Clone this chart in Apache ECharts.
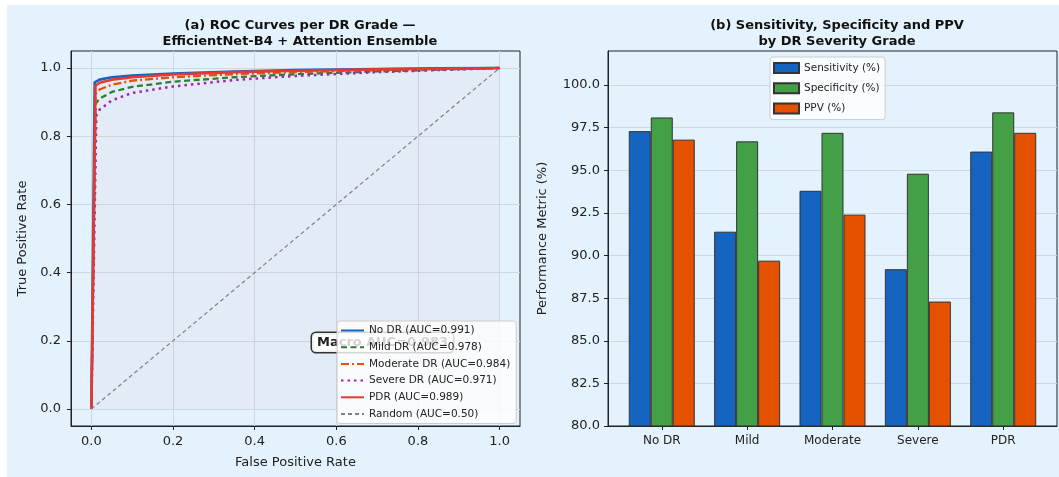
<!DOCTYPE html>
<html><head><meta charset="utf-8">
<script src="https://cdn.jsdelivr.net/npm/echarts@6/dist/echarts.min.js"></script>
<style>html,body{margin:0;padding:0;background:#fff}#c{width:1059px;height:477px}</style>
</head><body><div id="c"></div>
<script>
// ---- Panel (a) data: ROC curves [FPR, TPR] ----
const fprTicks = [0, 0.2, 0.4, 0.6, 0.8, 1.0];
const tprTicks = [0, 0.2, 0.4, 0.6, 0.8, 1.0];
const rocNoDR = [[0,0],[0.008,0.958],[0.02,0.966],[0.05,0.973],[0.1,0.978],[0.2,0.984],[0.35,0.990],[0.5,0.994],[0.7,0.997],[0.85,0.999],[1,1]];
const rocMild = [[0,0],[0.01,0.895],[0.02,0.91],[0.05,0.93],[0.1,0.945],[0.2,0.960],[0.35,0.973],[0.5,0.982],[0.7,0.990],[0.85,0.995],[1,1]];
const rocModerate = [[0,0],[0.01,0.925],[0.02,0.937],[0.05,0.951],[0.1,0.963],[0.2,0.973],[0.35,0.982],[0.5,0.988],[0.7,0.994],[0.85,0.997],[1,1]];
const rocSevere = [[0,0],[0.012,0.86],[0.02,0.878],[0.05,0.905],[0.1,0.927],[0.2,0.946],[0.35,0.965],[0.5,0.977],[0.7,0.988],[0.85,0.994],[1,1]];
const rocPDR = [[0,0],[0.01,0.948],[0.02,0.957],[0.05,0.966],[0.1,0.973],[0.2,0.981],[0.35,0.988],[0.5,0.992],[0.7,0.996],[0.85,0.998],[1,1]];
const rocRandom = [[0,0],[1,1]];
const rocNames = ['No DR (AUC=0.991)','Mild DR (AUC=0.978)','Moderate DR (AUC=0.984)','Severe DR (AUC=0.971)','PDR (AUC=0.989)','Random (AUC=0.50)'];
const macroText = 'Macro AUC=0.983';

// ---- Panel (b) data ----
const categories = ['No DR','Mild','Moderate','Severe','PDR'];
const sensitivity = [97.3, 91.4, 93.8, 89.2, 96.1];
const specificity = [98.1, 96.7, 97.2, 94.8, 98.4];
const ppv = [96.8, 89.7, 92.4, 87.3, 97.2];
const metricNames = ['Sensitivity (%)','Specificity (%)','PPV (%)'];
const metricTicks = [80, 82.5, 85, 87.5, 90, 92.5, 95, 97.5, 100];
const catPositions = categories.map((c, i) => i);

const FONT = 'DejaVu Sans';
const TXT = '#222';
const GRIDC = '#cfd7e1';

const chart = echarts.init(document.getElementById('c'), null, {renderer: 'canvas'});

function lineSeries(name, data, color, width, type, extra) {
  return Object.assign({
    type: 'line', name, data, xAxisIndex: 0, yAxisIndex: 0,
    symbol: 'none', showSymbol: false, smooth: false, silent: true,
    lineStyle: {color, width, type},
    itemStyle: {color},
    z: 2
  }, extra || {});
}
function barSeries(name, vals, color) {
  return {
    type: 'bar', name, xAxisIndex: 1, yAxisIndex: 1,
    data: vals.map((v, i) => [catPositions[i], v]),
    barWidth: 22, barGap: '0%',
    itemStyle: {color, borderColor: '#333', borderWidth: 1},
    silent: true
  };
}

const axisCommon = {
  axisLine: {show: true, onZero: false, lineStyle: {color: TXT, width: 1}},
  axisTick: {show: true, length: 4, lineStyle: {color: TXT}},
  nameTextStyle: {fontFamily: FONT, fontSize: 13, color: TXT},
  nameLocation: 'middle'
};

const option = {
  animation: false,
  backgroundColor: '#ffffff',
  graphic: [
    {type: 'rect', z: -10, silent: true, shape: {x: 7, y: 5, width: 1052, height: 472}, style: {fill: '#E3F2FD'}},
    {type: 'text', z: 3, silent: true, x: 312, y: 333,
     style: {text: macroText, font: 'bold 13px "DejaVu Sans"', fill: '#222',
       backgroundColor: 'rgba(255,255,255,0.9)', borderColor: '#333', borderWidth: 1.5,
       borderRadius: 4, padding: [3, 5, 3, 5]}}
  ],
  title: [
    {text: '(a) ROC Curves per DR Grade —\nEfficientNet-B4 + Attention Ensemble', left: 295, top: 13, textAlign: 'center',
     textStyle: {fontFamily: FONT, fontWeight: 'bold', fontSize: 13, color: '#111', lineHeight: 16}},
    {text: '(b) Sensitivity, Specificity and PPV\nby DR Severity Grade', left: 832, top: 13, textAlign: 'center',
     textStyle: {fontFamily: FONT, fontWeight: 'bold', fontSize: 13, color: '#111', lineHeight: 16}}
  ],
  legend: [
    {data: rocNames, orient: 'vertical', left: 337, top: 321, padding: [4, 6, 4, 3],
     itemWidth: 23, itemHeight: 10, itemGap: 5.7, backgroundColor: 'rgba(255,255,255,0.8)',
     borderColor: '#cccccc', borderWidth: 1, borderRadius: 3, selectedMode: false,
     itemStyle: {color: 'rgba(0,0,0,0)', borderColor: 'rgba(0,0,0,0)', borderWidth: 0, opacity: 0},
     textStyle: {fontFamily: FONT, fontSize: 10.5, color: TXT}},
    {data: metricNames, orient: 'vertical', left: 770, top: 57, padding: [5, 5, 5, 3],
     itemWidth: 25, itemHeight: 10, itemGap: 8.3, backgroundColor: 'rgba(255,255,255,0.8)',
     borderColor: '#cccccc', borderWidth: 1, borderRadius: 3, selectedMode: false, icon: 'rect',
     textStyle: {fontFamily: FONT, fontSize: 10.5, color: TXT}}
  ],
  grid: [
    {left: 71, top: 51, width: 449, height: 375, show: true, borderColor: TXT, borderWidth: 1, backgroundColor: 'transparent'},
    {left: 608, top: 51, width: 449, height: 375, show: true, borderColor: TXT, borderWidth: 1, backgroundColor: 'transparent'}
  ],
  xAxis: [
    Object.assign({}, axisCommon, {
      type: 'value', gridIndex: 0, min: -0.05, max: 1.05, name: 'False Positive Rate', nameGap: 30,
      axisTick: {show: true, length: 4, lineStyle: {color: TXT}, customValues: fprTicks},
      axisLabel: {customValues: fprTicks, formatter: v => v.toFixed(1), fontFamily: FONT, fontSize: 13, color: TXT, margin: 9},
      splitLine: {show: true, lineStyle: {color: GRIDC, width: 1}}
    }),
    Object.assign({}, axisCommon, {
      type: 'value', gridIndex: 1, min: -0.63, max: 4.63,
      axisTick: {show: true, length: 4, lineStyle: {color: TXT}, customValues: catPositions},
      axisLabel: {customValues: catPositions, formatter: v => categories[Math.round(v)], fontFamily: FONT, fontSize: 12, color: TXT, margin: 9},
      splitLine: {show: false}
    })
  ],
  yAxis: [
    Object.assign({}, axisCommon, {
      type: 'value', gridIndex: 0, min: -0.05, max: 1.05, name: 'True Positive Rate', nameGap: 42,
      axisTick: {show: true, length: 4, lineStyle: {color: TXT}, customValues: tprTicks},
      axisLabel: {customValues: tprTicks, formatter: v => v.toFixed(1), fontFamily: FONT, fontSize: 13, color: TXT, margin: 10},
      splitLine: {show: true, lineStyle: {color: GRIDC, width: 1}}
    }),
    Object.assign({}, axisCommon, {
      type: 'value', gridIndex: 1, min: 80, max: 102, name: 'Performance Metric (%)', nameGap: 59,
      axisTick: {show: true, length: 4, lineStyle: {color: TXT}, customValues: metricTicks},
      axisLabel: {customValues: metricTicks, formatter: v => v.toFixed(1), fontFamily: FONT, fontSize: 13, color: TXT, margin: 8},
      splitLine: {show: true, lineStyle: {color: GRIDC, width: 1}}
    })
  ],
  series: [
    lineSeries(rocNames[0], rocNoDR, '#1565C0', 2.6, 'solid'),
    lineSeries(rocNames[1], rocMild, '#2E7D32', 2.3, [6, 3.5]),
    lineSeries(rocNames[2], rocModerate, '#E65100', 2.3, [8, 3, 2, 3]),
    lineSeries(rocNames[3], rocSevere, '#9C27B0', 2.5, [2.5, 4]),
    lineSeries(rocNames[4], rocPDR, '#E53935', 2.6, 'solid', {areaStyle: {color: 'rgba(229,57,53,0.05)'}}),
    lineSeries(rocNames[5], rocRandom, '#808080', 1.2, [4, 3]),
    barSeries(metricNames[0], sensitivity, '#1565C0'),
    barSeries(metricNames[1], specificity, '#43A047'),
    barSeries(metricNames[2], ppv, '#E65100')
  ]
};
chart.setOption(option);
</script>
</body></html>
